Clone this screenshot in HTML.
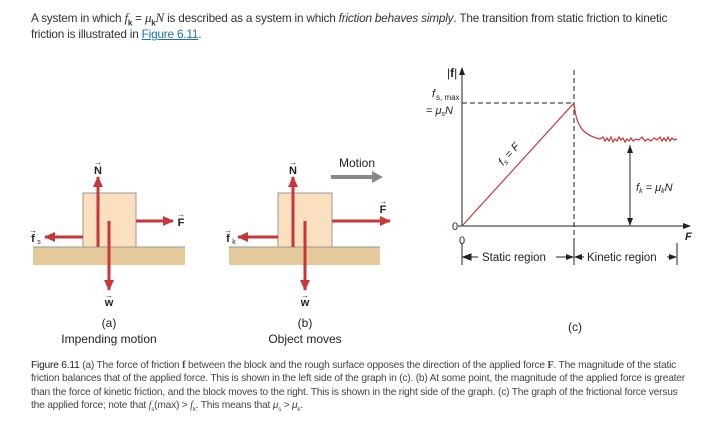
<!DOCTYPE html>
<html><head><meta charset="utf-8"><style>
body{margin:0;width:708px;height:428px;background:#fff;font-family:"Liberation Sans",sans-serif;color:#333;position:relative;overflow:hidden}
.t{position:absolute;left:31px;top:10px;font-size:11.8px;line-height:16px;letter-spacing:-0.2px;white-space:nowrap}
.c{position:absolute;left:31px;top:359px;font-size:10.2px;line-height:13.3px;letter-spacing:-0.2px;white-space:nowrap;color:#444}
a{color:#1a73b5;text-decoration:underline}
svg{position:absolute;left:0;top:0}
</style></head><body>
<div class="t">A system in which <i style="font-family:'Liberation Serif',serif;font-size:13px">f</i><sub style="font-size:8px;line-height:0"><b>k</b></sub> = <i style="font-family:'Liberation Serif',serif;font-size:13px">μ</i><sub style="font-size:8px;line-height:0"><b>k</b></sub><i style="font-family:'Liberation Serif',serif;font-size:13px">N</i> is described as a system in which <i>friction behaves simply</i>. The transition from static friction to kinetic<br>friction is illustrated in <a>Figure 6.11</a>.</div>
<svg width="708" height="428" viewBox="0 0 708 428" font-family="Liberation Sans, sans-serif">
<defs>
<marker id="r" markerWidth="11" markerHeight="10" refX="10" refY="5" orient="auto" markerUnits="userSpaceOnUse"><path d="M0,0L11,5L0,10z" fill="#c9363a"/></marker>
<marker id="k" markerWidth="8" markerHeight="6" refX="7" refY="3" orient="auto" markerUnits="userSpaceOnUse"><path d="M0,0L8,3L0,6z" fill="#222"/></marker>
</defs>
<rect x="33" y="247" width="152" height="18" fill="#e4c99a"/>
<line x1="33" y1="247" x2="185" y2="247" stroke="#999" stroke-width="1"/>
<rect x="83" y="193" width="53" height="54" fill="#fbe0c0" stroke="#999" stroke-width="1"/>
<g stroke="#c9363a" stroke-width="3" fill="none">
<line x1="98" y1="247" x2="98" y2="177" marker-end="url(#r)"/>
<line x1="109" y1="221" x2="109" y2="290" marker-end="url(#r)"/>
<line x1="136" y1="221" x2="173" y2="221" marker-end="url(#r)"/>
<line x1="83" y1="237" x2="45" y2="237" marker-end="url(#r)"/>
</g>
<g font-size="11" font-weight="bold" fill="#222" text-anchor="middle">
<text x="98" y="174">N</text><text x="98" y="165" font-size="8">→</text>
<text x="109" y="306">w</text><text x="109" y="298" font-size="8">→</text>
<text x="181" y="226">F</text><text x="181" y="217" font-size="8">→</text>
<text x="33" y="242">f</text><text x="33" y="233" font-size="8">→</text><text x="39" y="244" font-size="7" font-weight="normal">s</text>
<text x="293" y="174">N</text><text x="293" y="165" font-size="8">→</text>
<text x="305" y="306">w</text><text x="305" y="298" font-size="8">→</text>
<text x="383" y="213">F</text><text x="383" y="204" font-size="8">→</text>
<text x="228" y="242">f</text><text x="228" y="233" font-size="8">→</text><text x="234" y="244" font-size="7" font-weight="normal">k</text>
</g>
<rect x="229" y="247" width="151" height="18" fill="#e4c99a"/>
<line x1="229" y1="247" x2="380" y2="247" stroke="#999" stroke-width="1"/>
<rect x="278" y="193" width="54" height="54" fill="#fbe0c0" stroke="#999" stroke-width="1"/>
<g stroke="#c9363a" stroke-width="3" fill="none">
<line x1="293" y1="247" x2="293" y2="177" marker-end="url(#r)"/>
<line x1="305" y1="221" x2="305" y2="290" marker-end="url(#r)"/>
<line x1="332" y1="221" x2="390" y2="221" marker-end="url(#r)"/>
<line x1="278" y1="237" x2="238" y2="237" marker-end="url(#r)"/>
</g>
<text x="357" y="167" font-size="12" text-anchor="middle" fill="#222">Motion</text>
<path d="M331,175H372V171L383,177L372,183V179H331z" fill="#888"/>
<g font-size="12" text-anchor="middle" fill="#222">
<text x="109" y="327">(a)</text><text x="109" y="343">Impending motion</text>
<text x="305" y="327">(b)</text><text x="305" y="343">Object moves</text>
<text x="575" y="331">(c)</text>
</g>
<g stroke="#222" stroke-width="1" fill="none">
<line x1="462" y1="226" x2="462" y2="68" marker-end="url(#k)"/>
<line x1="462" y1="226" x2="690" y2="226" marker-end="url(#k)"/>
<line x1="462" y1="103" x2="574" y2="103" stroke-dasharray="5,3"/>
<line x1="574" y1="70" x2="574" y2="265" stroke-dasharray="5,3"/>
<line x1="630" y1="145" x2="630" y2="225" marker-end="url(#k)"/>
<line x1="630" y1="225" x2="630" y2="146" marker-end="url(#k)"/>
<line x1="462" y1="243" x2="462" y2="265"/><line x1="574" y1="243" x2="574" y2="265"/><line x1="677" y1="243" x2="677" y2="265"/>
<line x1="463" y1="257" x2="478" y2="257"/>
<line x1="556" y1="257" x2="573" y2="257" marker-end="url(#k)"/>
<line x1="584" y1="257" x2="575" y2="257" marker-end="url(#k)"/>
<line x1="667" y1="257" x2="676" y2="257" marker-end="url(#k)"/>
<path d="M471,254L463,257L471,260z" fill="#222"/>
<line x1="458" y1="226" x2="462" y2="226"/>
</g>
<g stroke="#c9363a" stroke-width="1.2" fill="none">
<line x1="462" y1="226" x2="574" y2="103"/>
<path d="M574,103C576,125 582,135 600,139L603,137L605,141L607,138L609,141L611,137L613,142L615,139L617,141L619,137L621,140L623,138L625,142L627,139L629,141L631,138L633,141L636,139L639,140L642,137L645,141L648,139L651,141L654,138L657,140L660,137L662,141L664,138L666,141L668,137L670,141L672,138L674,140L677,139"/>
</g>
<g fill="#222" font-size="11">
<text x="447" y="77" font-size="12">|<tspan font-weight="bold">f</tspan>|</text>
<text x="432" y="97" font-style="italic">f</text><text x="436" y="100" font-size="8">s, max</text>
<text x="426" y="114">= <tspan font-style="italic">μ</tspan><tspan font-size="7" font-style="italic" dy="2">s</tspan><tspan font-style="italic" dy="-2">N</tspan></text>
<text x="452" y="230">0</text>
<text x="459" y="244">0</text>
<text x="685" y="240" font-style="italic" font-weight="bold">F</text>
<text x="636" y="191" font-style="italic">f<tspan font-size="7" dy="2">k</tspan><tspan dy="-2"> = μ</tspan><tspan font-size="7" dy="2">k</tspan><tspan dy="-2">N</tspan></text>
<text x="482" y="261" font-size="11.5">Static region</text>
<text x="587" y="261" font-size="11.5">Kinetic region</text>
<text transform="translate(503,166) rotate(-48)" font-style="italic">f<tspan font-size="7" dy="2">s</tspan><tspan dy="-2"> = F</tspan></text>
</g>
</svg>
<div class="c"><span style="color:#222">Figure 6.11</span> (a) The force of friction <b style="font-family:'Liberation Serif',serif">f</b> between the block and the rough surface opposes the direction of the applied force <b style="font-family:'Liberation Serif',serif">F</b>. The magnitude of the static<br>friction balances that of the applied force. This is shown in the left side of the graph in (c). (b) At some point, the magnitude of the applied force is greater<br>than the force of kinetic friction, and the block moves to the right. This is shown in the right side of the graph. (c) The graph of the frictional force versus<br>the applied force; note that <i style="font-family:'Liberation Serif',serif">f</i><sub style="font-size:6px;line-height:0">s</sub>(max) &gt; <i style="font-family:'Liberation Serif',serif">f</i><sub style="font-size:6px;line-height:0">k</sub>. This means that <i>μ</i><sub style="font-size:6px;line-height:0">s</sub> &gt; <i>μ</i><sub style="font-size:6px;line-height:0">k</sub>.</div>
</body></html>
